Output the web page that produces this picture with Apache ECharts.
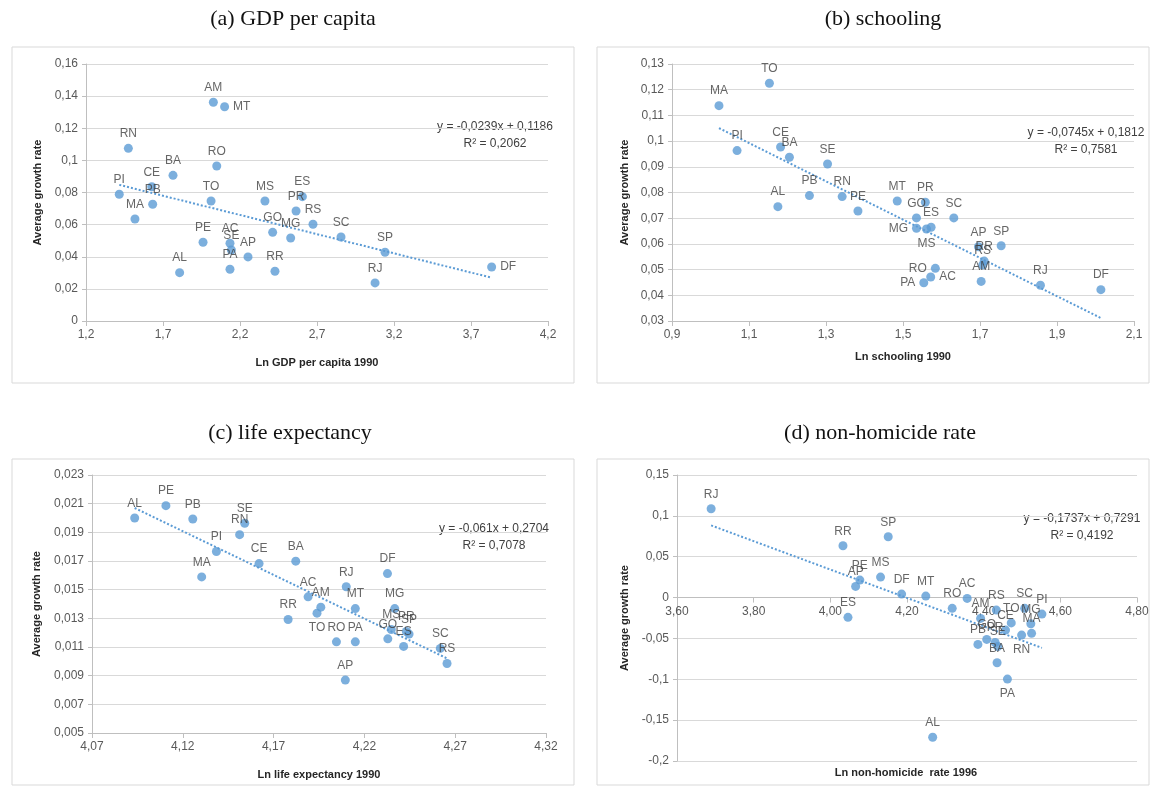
<!DOCTYPE html>
<html>
<head>
<meta charset="utf-8">
<script src="https://cdn.jsdelivr.net/npm/echarts@6/dist/echarts.min.js"></script>
<style>
html,body{margin:0;padding:0;background:#fff;}
#chart{width:1157px;height:793px;}
</style>
</head>
<body>
<div id="chart"></div>
<script>
// ---------- DATA ----------
const panelTitles = ['(a) GDP per capita', '(b) schooling', '(c) life expectancy', '(d) non-homicide rate'];
const xAxisNames = ['Ln GDP per capita 1990', 'Ln schooling 1990', 'Ln life expectancy 1990', 'Ln non-homicide  rate 1996'];
const yAxisName = 'Average growth rate';

const namesA = ['PI','RN','MA','CE','PB','BA','AL','PE','TO','AM','RO','MT','AC','SE','PA','AP','MS','GO','RR','MG','PR','ES','RS','SC','SP','RJ','DF'];
const xA = [1.416,1.475,1.518,1.627,1.633,1.765,1.808,1.960,2.012,2.027,2.049,2.100,2.135,2.144,2.135,2.252,2.362,2.412,2.427,2.529,2.564,2.605,2.674,2.856,3.142,3.077,3.834];
const yA = [0.0789,0.1075,0.0635,0.0836,0.0727,0.0907,0.0301,0.0490,0.0747,0.1362,0.0965,0.1334,0.0484,0.0442,0.0322,0.0399,0.0747,0.0552,0.0310,0.0517,0.0685,0.0774,0.0602,0.0523,0.0428,0.0237,0.0336];

const namesB = ['MA','TO','PI','CE','BA','SE','AL','PB','RN','PE','MT','PR','GO','SC','MG','MS','ES','AP','SP','RR','RS','RO','AC','PA','AM','RJ','DF'];
const xB = [1.022,1.153,1.069,1.182,1.205,1.304,1.175,1.257,1.342,1.383,1.485,1.558,1.535,1.632,1.535,1.561,1.573,1.696,1.755,1.711,1.707,1.584,1.572,1.554,1.703,1.857,2.014];
const yB = [0.1138,0.1225,0.0963,0.0977,0.0937,0.0911,0.0745,0.0788,0.0784,0.0728,0.0767,0.0762,0.0701,0.0701,0.0661,0.0658,0.0665,0.0589,0.0593,0.0533,0.0518,0.0505,0.0471,0.0449,0.0454,0.0439,0.0422];

const namesC = ['AL','PE','PB','SE','RN','PI','MA','CE','BA','RR','AC','AM','TO','RJ','MT','RO','PA','AP','DF','MG','MS','GO','PR','SP','ES','SC','RS'];
const xC = [4.0935,4.1107,4.1255,4.1541,4.1513,4.1385,4.1304,4.1620,4.1822,4.1780,4.1890,4.1960,4.1939,4.2100,4.2150,4.2046,4.2150,4.2095,4.2327,4.2367,4.2348,4.2329,4.2431,4.2446,4.2416,4.2618,4.2655];
const yC = [0.02000,0.02086,0.01993,0.01963,0.01884,0.01766,0.01589,0.01682,0.01699,0.01292,0.01450,0.01378,0.01336,0.01520,0.01368,0.01136,0.01136,0.00869,0.01612,0.01368,0.01222,0.01157,0.01208,0.01190,0.01104,0.01090,0.00985];

const namesD = ['RJ','RR','PE','AP','ES','SP','MS','DF','MT','AC','RO','RS','SC','PI','AM','TO','MG','CE','MA','RN','GO','PB','PR','SE','BA','PA','AL'];
const xD = [3.689,4.033,4.077,4.066,4.046,4.151,4.131,4.186,4.249,4.357,4.318,4.433,4.507,4.552,4.392,4.472,4.523,4.457,4.525,4.499,4.408,4.385,4.430,4.437,4.435,4.462,4.267];
const yD = [0.1087,0.0634,0.0214,0.0137,-0.0242,0.0744,0.0251,0.0043,0.0018,-0.0010,-0.0132,-0.0153,-0.0132,-0.0202,-0.0255,-0.0310,-0.0320,-0.0398,-0.0438,-0.0459,-0.0512,-0.0573,-0.0550,-0.0600,-0.0798,-0.0998,-0.1710];

const trendSlopes = [-0.0239, -0.0745, -0.061, -0.1737];
const trendIntercepts = [0.1186, 0.1812, 0.2704, 0.7291];
const trendEquations = ['y = -0,0239x + 0,1186', 'y = -0,0745x + 0,1812', 'y = -0,061x + 0,2704', 'y = -0,1737x + 0,7291'];
const trendR2 = ['R² = 0,2062', 'R² = 0,7581', 'R² = 0,7078', 'R² = 0,4192'];

const xTicksA = [1.2,1.7,2.2,2.7,3.2,3.7,4.2];
const yTicksA = [0,0.02,0.04,0.06,0.08,0.1,0.12,0.14,0.16];
const xTicksB = [0.9,1.1,1.3,1.5,1.7,1.9,2.1];
const yTicksB = [0.03,0.04,0.05,0.06,0.07,0.08,0.09,0.1,0.11,0.12,0.13];
const xTicksC = [4.07,4.12,4.17,4.22,4.27,4.32];
const yTicksC = [0.005,0.007,0.009,0.011,0.013,0.015,0.017,0.019,0.021,0.023];
const xTicksD = [3.6,3.8,4.0,4.2,4.4,4.6,4.8];
const yTicksD = [-0.2,-0.15,-0.1,-0.05,0,0.05,0.1,0.15];

// ---------- LAYOUT / STYLE ----------
const names = [namesA, namesB, namesC, namesD];
const xs = [xA, xB, xC, xD];
const ys = [yA, yB, yC, yD];
const xTicks = [xTicksA, xTicksB, xTicksC, xTicksD];
const yTicks = [yTicksA, yTicksB, yTicksC, yTicksD];
const xDec = [1, 1, 2, 2];

const grids = [
  {left: 86, top: 64, width: 462, height: 257},
  {left: 672, top: 64, width: 462, height: 257},
  {left: 92, top: 475, width: 454, height: 258},
  {left: 677, top: 475, width: 460, height: 286}
];
const boxes = [[12,47,562,336],[597,47,552,336],[12,459,562,326],[597,459,552,326]];
const titlePos = [[293,19],[883,19],[290,433],[880,433]];
const eqPos = [[495,127],[1086,133],[494,529],[1082,519]];
const yNameGap = [43, 42, 50, 47];
const labelOverrides = [
  {MT:'right', DF:'right'},
  {MG:'left', MS:'bottom', RO:'left', PA:'left', AC:'right'},
  {TO:'bottom'},
  {RN:'bottom', PA:'bottom'}
];

const BLUE = '#5b9bd5';
const FONT = '"Liberation Sans", Arial, sans-serif';
const fmtNum = (v, d) => {
  let s = (d != null) ? v.toFixed(d) : String(parseFloat(v.toFixed(5)));
  return s.replace('.', ',');
};

const xAxes = [], yAxes = [], series = [], graphics = [];
for (let i = 0; i < 4; i++) {
  const xt = xTicks[i], yt = yTicks[i];
  const ymin = yt[0], ymax = yt[yt.length - 1];
  // where the value-0 line sits, if the y range crosses zero (x axis crosses there)
  const zeroOffset = (ymin < 0 && ymax > 0) ? -grids[i].height * (0 - ymin) / (ymax - ymin) : 0;
  xAxes.push({
    type: 'value', gridIndex: i,
    min: xt[0], max: xt[xt.length - 1],
    offset: zeroOffset,
    name: i < 3 ? xAxisNames[i] : '',
    nameLocation: 'middle', nameGap: i === 1 ? 30 : 36,
    nameTextStyle: {fontFamily: FONT, fontWeight: 'bold', fontSize: 11, color: '#262626'},
    axisLine: {show: true, onZero: false, lineStyle: {color: '#bfbfbf', width: 1}},
    axisTick: {show: true, length: 5, customValues: xt, lineStyle: {color: '#bfbfbf'}},
    axisLabel: {customValues: xt, formatter: v => fmtNum(v, xDec[i]), fontFamily: FONT, fontSize: 12, color: '#595959', margin: 8},
    splitLine: {show: false}
  });
  yAxes.push({
    type: 'value', gridIndex: i,
    min: ymin, max: ymax,
    name: yAxisName, nameLocation: 'middle', nameRotate: 90, nameGap: yNameGap[i],
    nameTextStyle: {fontFamily: FONT, fontWeight: 'bold', fontSize: 11, color: '#262626'},
    axisLine: {show: true, lineStyle: {color: '#bfbfbf', width: 1}},
    axisTick: {show: true, length: 4, customValues: yt, lineStyle: {color: '#bfbfbf'}},
    axisLabel: {customValues: yt, formatter: v => fmtNum(v), fontFamily: FONT, fontSize: 12, color: '#595959', margin: 8},
    splitLine: {show: true, lineStyle: {color: '#d9d9d9', width: 1}}
  });
  const data = names[i].map((n, k) => {
    const item = {name: n, value: [xs[i][k], ys[i][k]]};
    const pos = labelOverrides[i][n];
    if (pos) item.label = {position: pos};
    return item;
  });
  series.push({
    type: 'scatter', xAxisIndex: i, yAxisIndex: i,
    symbolSize: 9, z: 3,
    itemStyle: {color: BLUE},
    label: {show: true, position: 'top', distance: 4, formatter: p => p.name, fontFamily: FONT, fontSize: 12, color: '#404040'},
    data: data
  });
  const xmin = Math.min(...xs[i]), xmax = Math.max(...xs[i]);
  const m = trendSlopes[i], b = trendIntercepts[i];
  series.push({
    type: 'line', xAxisIndex: i, yAxisIndex: i, symbol: 'none', z: 2, silent: true,
    lineStyle: {color: BLUE, width: 2, type: 'dotted'},
    data: [[xmin, m * xmin + b], [xmax, m * xmax + b]]
  });
  const bx = boxes[i];
  graphics.push({type: 'rect', z: -10, shape: {x: bx[0], y: bx[1], width: bx[2], height: bx[3]}, style: {fill: 'none', stroke: '#d9d9d9', lineWidth: 1}});
  graphics.push({type: 'text', x: titlePos[i][0], y: titlePos[i][1], style: {text: panelTitles[i], font: '22px "Liberation Serif", serif', fill: '#111', align: 'center', verticalAlign: 'middle'}});
  graphics.push({type: 'text', x: eqPos[i][0], y: eqPos[i][1], style: {text: trendEquations[i], font: '12px ' + FONT, fill: '#404040', align: 'center', verticalAlign: 'middle'}});
  graphics.push({type: 'text', x: eqPos[i][0], y: eqPos[i][1] + 17, style: {text: trendR2[i], font: '12px ' + FONT, fill: '#404040', align: 'center', verticalAlign: 'middle'}});
}
graphics.push({type: 'text', x: 906, y: 773, style: {text: xAxisNames[3], font: 'bold 11px ' + FONT, fill: '#262626', align: 'center', verticalAlign: 'middle'}});

const chart = echarts.init(document.getElementById('chart'), null, {renderer: 'canvas'});
chart.setOption({
  backgroundColor: '#fff',
  animation: false,
  grid: grids,
  xAxis: xAxes,
  yAxis: yAxes,
  series: series,
  graphic: graphics
});
</script>
</body>
</html>
